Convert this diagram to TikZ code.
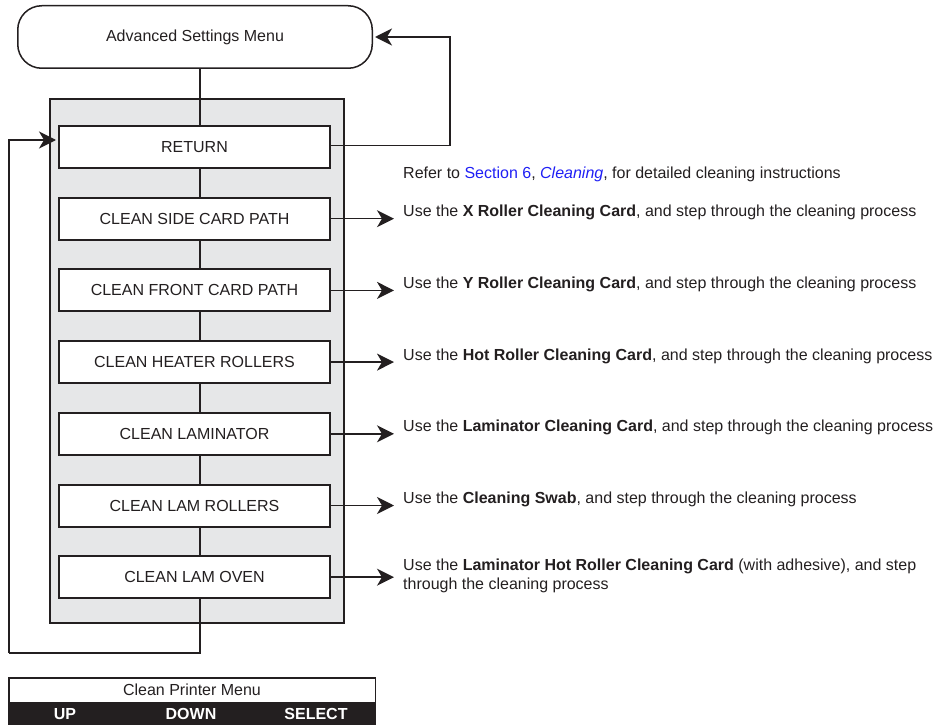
\documentclass[tikz,border=0pt]{standalone}
\usepackage{fontspec}
\setmainfont{Liberation Sans}
\usetikzlibrary{arrows.meta,positioning}
\definecolor{inkgray}{HTML}{231F20}
\definecolor{panelgray}{HTML}{E6E7E8}
\definecolor{linkblue}{HTML}{1F1FF5}
\DeclareRobustCommand{\DiagFont}{\fontsize{16}{19}\selectfont}
\DeclareRobustCommand{\XRef}[1]{\textcolor{linkblue}{#1}}
\DeclareRobustCommand{\CleanTail}{, and step through the cleaning process}

\begin{document}
\begin{tikzpicture}[
    x=1pt, y=-1pt,
    node distance=27.7pt and 72pt,
    menu/.style={
      draw=inkgray,
      line width=1.5pt,
      rounded corners=24pt,
      minimum width=354.5pt,
      minimum height=62.5pt,
      font=\DiagFont,
      text=inkgray,
    },
    item/.style={
      draw=inkgray,
      line width=2pt,
      fill=white,
      minimum width=271pt,
      minimum height=42pt,
      inner sep=0pt,
      font=\DiagFont,
      text=inkgray,
    },
    note/.style={
      inner sep=0pt,
      align=left,
      font=\DiagFont,
      text=inkgray,
    },
    panel/.style={draw=inkgray, line width=2pt, fill=panelgray},
    wire/.style={draw=inkgray, line width=1.5pt},
    arrow/.style={
      wire,
      -{Stealth[length=17pt,width=17pt,inset=5pt]},
      shorten >=2pt,
    },
    barlabel/.style={font=\DiagFont\bfseries, text=white, inner sep=0pt},
  ]
    \useasboundingbox (0,0) rectangle (935,725);

    % grey frame behind the menu items
    \draw[panel] (50,99) rectangle (344,623);

    \node[menu] (adv) at (195,37) {Advanced Settings Menu};
    \coordinate (loopbot) at (200,653);
    \coordinate (loopleft) at (9,653);
    \coordinate (retright) at (450,0);

    \draw[wire] (adv.south -| loopbot) -- (loopbot) -- (loopleft);

    \node[item] (ret) at (194.5,147) {RETURN};
    \node[item, below=of ret] (side) {CLEAN SIDE CARD PATH};
    \node[item, below=of side] (front) {CLEAN FRONT CARD PATH};
    \node[item, below=of front] (heater) {CLEAN HEATER ROLLERS};
    \node[item, below=of heater] (lamin) {CLEAN LAMINATOR};
    \node[item, below=of lamin] (lamroll) {CLEAN LAM ROLLERS};
    \node[item, below=of lamroll] (lamoven) {CLEAN LAM OVEN};

    % descriptions on the right
    \node[note, right=of side.east, anchor=west, yshift=6pt] (sidenote)
      {Use the \textbf{X Roller Cleaning Card}\CleanTail};
    \node[note, above=38pt of sidenote.west, anchor=west] (refer)
      {Refer to \XRef{Section 6}, \XRef{\textit{Cleaning}}, for detailed cleaning instructions};
    \node[note, right=of front.east, anchor=west, yshift=6pt] (frontnote)
      {Use the \textbf{Y Roller Cleaning Card}\CleanTail};
    \node[note, right=of heater.east, anchor=west, yshift=6pt] (heaternote)
      {Use the \textbf{Hot Roller Cleaning Card}\CleanTail};
    \node[note, right=of lamin.east, anchor=west, yshift=6pt] (laminnote)
      {Use the \textbf{Laminator Cleaning Card}\CleanTail};
    \node[note, right=of lamroll.east, anchor=west, yshift=6pt] (lamrollnote)
      {Use the \textbf{Cleaning Swab}\CleanTail};
    \node[note, right=of lamoven.east, anchor=west, yshift=1.5pt] (lamovennote)
      {Use the \textbf{Laminator Hot Roller Cleaning Card} (with adhesive), and step\\
       through the cleaning process};

    \draw[arrow] (loopleft) |- ([yshift=7pt]ret.west);
    \draw[arrow] ([yshift=1.5pt]ret.east) -- ([yshift=1.5pt]ret.east -| retright) |- (adv.east);
    \foreach \m in {side,front,heater,lamin,lamroll,lamoven}
      \draw[arrow, shorten >=9pt] (\m.east) -- (\m.east -| \m note.west);

    % display at the bottom
    \node[draw=inkgray, line width=1.5pt, minimum width=366.5pt, minimum height=24.5pt,
          inner sep=0pt, font=\DiagFont, text=inkgray] (cpm) at (192,690) {Clean Printer Menu};
    \node[fill=inkgray, minimum width=368pt, minimum height=22pt, inner sep=0pt,
          below=0pt of cpm] (cpmbar) {};
    \node[barlabel] (up) at ([xshift=-127pt]cpmbar.center) {UP};
    \node[barlabel] (down) at ([xshift=-1pt]cpmbar.center) {DOWN};
    \node[barlabel] (select) at ([xshift=124pt]cpmbar.center) {SELECT};
  \end{tikzpicture}
\end{document}
